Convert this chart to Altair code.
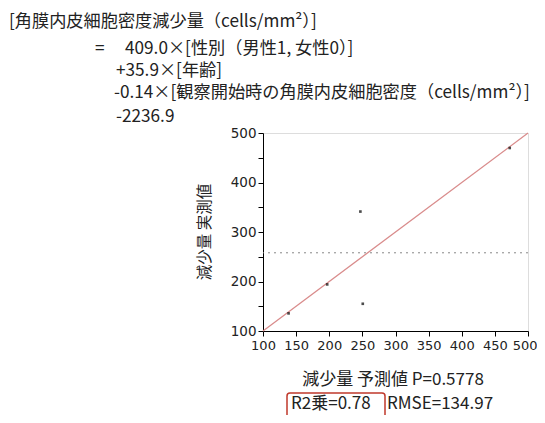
import altair as alt
import pandas as pd

# data
pred = [138.6, 196.9, 247.0, 250.6, 472.4]
actual = [135.6, 194.1, 341.3, 155.0, 469.7]
mean_actual = 258.0
fit_x = [100, 500]
fit_y = [100, 500]
ticks = [100, 150, 200, 250, 300, 350, 400, 450, 500]

header_lines = [
    "[角膜内皮細胞密度減少量（cells/mm²）]",
    "=",
    "409.0×[性別（男性1, 女性0）]",
    "+35.9×[年齢]",
    "-0.14×[観察開始時の角膜内皮細胞密度（cells/mm²）]",
    "-2236.9",
]
# page positions (left edge, vertical centre)
header_x = [9, 95, 125, 116, 114, 116]
header_y = [22, 49, 49, 71, 93, 117]

x_title = "減少量 予測値 P=0.5778"
y_title = "減少量 実測値"
r2_text = "R2乗=0.78"
rmse_text = "RMSE=134.97"

W, H = 265, 198
OX, OY = 263, 133  # plot origin on the page
FONT = "Noto Sans CJK JP"

pts = pd.DataFrame({"pred": pred, "actual": actual})
fit = pd.DataFrame({"pred": fit_x, "actual": fit_y})
mean_df = pd.DataFrame({"actual": [mean_actual]})

xscale = alt.Scale(domain=[100, 500], nice=False)
yscale = alt.Scale(domain=[100, 500], nice=False)

xaxis = alt.Axis(values=ticks, title=None, grid=False, domainColor="black",
                 tickColor="black", tickSize=5, labelFont="DejaVu Sans",
                 labelFontSize=13, labelColor="#222", labelPadding=3,
                 labelOverlap=False, labelFlush=False,
                 labelAlign={"condition": {"test": "datum.value == 500", "value": "right"},
                             "value": "center"},
                 labelOffset={"condition": {"test": "datum.value == 500", "value": 9},
                              "value": 0})
yaxis = alt.Axis(values=ticks, title=None, grid=False, domainColor="black",
                 tickColor="black", tickSize=5, labelFont="DejaVu Sans",
                 labelFontSize=13.5, labelColor="#222", labelPadding=2,
                 labelOverlap=False, labelFlush=False,
                 labelExpr="datum.value % 100 == 0 ? datum.label : ''")

X = alt.X("pred:Q", scale=xscale, axis=xaxis)
Y = alt.Y("actual:Q", scale=yscale, axis=yaxis)

base_pts = alt.Chart(pts).mark_square(filled=True, size=7, color="black").encode(x=X, y=Y)
fit_line = alt.Chart(fit).mark_line(color="#d98c8c", strokeWidth=1.3).encode(x=X, y=Y)
mean_line = alt.Chart(mean_df).mark_rule(color="#888888", strokeDash=[2, 4],
                                         strokeWidth=1).encode(y=Y)


def label(txt, x, y, size=16, angle=0, align="center"):
    return alt.Chart(pd.DataFrame({"t": [txt]})).mark_text(
        align=align, baseline="middle", font=FONT, fontSize=size,
        color="#222", angle=angle).encode(
        text="t:N", x=alt.value(x - OX), y=alt.value(y - OY))


headers = [label(t, hx, hy, size=17.2, align="left")
           for t, hx, hy in zip(header_lines, header_x, header_y)]

xt = label(x_title, 393, 380, size=17)
yt = label(y_title, 205, 232, size=15.5, angle=270)
r2 = label(r2_text, 291, 404, size=17, align="left")
rm = label(rmse_text, 387, 404, size=17, align="left")

box = alt.Chart(pd.DataFrame({"a": [0]})).mark_rect(
    fill=None, stroke="#c0392b", strokeWidth=1.5, cornerRadius=3).encode(
    x=alt.value(287 - OX), x2=alt.value(385 - OX),
    y=alt.value(393 - OY), y2=alt.value(423 - OY))

chart = alt.layer(mean_line, fit_line, base_pts, *headers, xt, yt, r2, rm, box).properties(
    width=W, height=H,
    padding={"left": OX - 8, "top": OY - 8, "right": 9, "bottom": 84},
    autosize=alt.AutoSizeParams(type="none"),
).configure_view(stroke="black", strokeWidth=1).configure(background="white")

chart.save("out.html", embed_options={"renderer": "svg", "actions": False})
